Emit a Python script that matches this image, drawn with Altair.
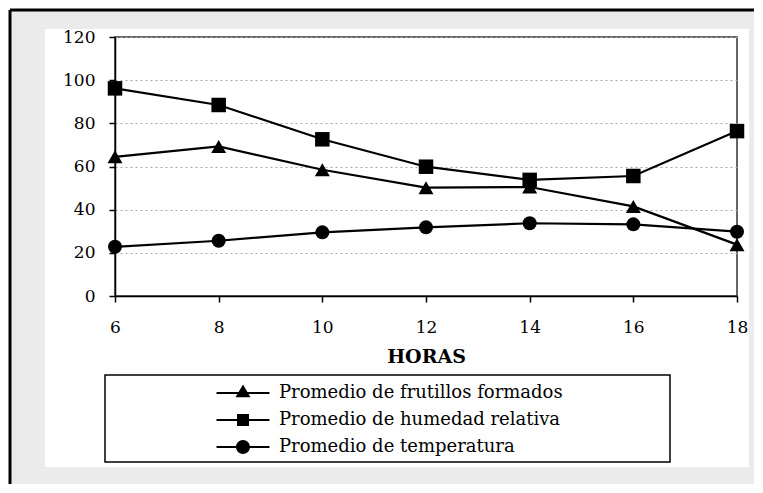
import altair as alt
import pandas as pd

# ---- data ----
horas = [6, 8, 10, 12, 14, 16, 18]
frutillos = [64.5, 69.3, 58.5, 50.2, 50.5, 41.5, 23.8]
humedad = [96.2, 88.5, 72.6, 59.9, 53.8, 55.6, 76.4]
temperatura = [22.8, 25.6, 29.5, 31.8, 33.7, 33.2, 29.8]
series = [
    "Promedio de frutillos formados",
    "Promedio de humedad relativa",
    "Promedio de temperatura",
]
y_ticks = [0, 20, 40, 60, 80, 100, 120]
x_ticks = horas

rows = []
for name, vals in zip(series, [frutillos, humedad, temperatura]):
    for h, v in zip(horas, vals):
        rows.append({"horas": h, "valor": v, "serie": name})
df = pd.DataFrame(rows)

FONT = "DejaVu Serif"

x_enc = alt.X(
    "horas:Q",
    scale=alt.Scale(domain=[6, 18], nice=False, zero=False),
    axis=alt.Axis(
        values=x_ticks, title="HORAS", titleFont=FONT, titleFontSize=19,
        titleFontWeight="bold", titleColor="black", titlePadding=12,
        labelFont=FONT, labelFontSize=17, labelColor="black", labelPadding=17,
        labelFlush=False, tickSize=6, tickColor="black", tickWidth=1.5,
        domainColor="black", domainWidth=1.5, grid=False,
    ),
)
y_enc = alt.Y(
    "valor:Q",
    scale=alt.Scale(domain=[0, 120], nice=False),
    axis=alt.Axis(
        values=y_ticks, title=None, labelFont=FONT, labelFontSize=17,
        labelColor="black", labelPadding=14, tickSize=6, tickColor="black",
        tickWidth=1.5, domainColor="black", domainWidth=1.5,
        grid=True, gridColor="#a8a8a8", gridDash=[2, 3], gridWidth=1,
    ),
)

base = alt.Chart(df)

lines = base.mark_line(color="black", strokeWidth=2.2).encode(
    x=x_enc, y=y_enc, detail="serie:N"
)

points = base.mark_point(filled=True, color="black", opacity=1).encode(
    x="horas:Q",
    y="valor:Q",
    shape=alt.Shape("serie:N", scale=alt.Scale(domain=series, range=["triangle-up", "square", "circle"]), legend=None),
    size=alt.Size("serie:N", scale=alt.Scale(domain=series, range=[225, 196, 150]), legend=None),
)

# legend symbols: a thin filled bar (the line) through the marker, all clockwise
bar = "M-3.53,-0.14L3.53,-0.14L3.53,0.14L-3.53,0.14Z"
leg_paths = [
    bar + "M0,-1.15L1,0.58L-1,0.58Z",
    bar + "M-0.8,-0.8L0.8,-0.8L0.8,0.8L-0.8,0.8Z",
    bar + "M0.93,0C0.93,0.51,0.51,0.93,0,0.93C-0.51,0.93,-0.93,0.51,-0.93,0"
    "C-0.93,-0.51,-0.51,-0.93,0,-0.93C0.51,-0.93,0.93,-0.51,0.93,0Z",
]
legend_src = base.mark_point(filled=True, color="black", opacity=0).encode(
    x="horas:Q",
    y="valor:Q",
    shape=alt.Shape(
        "serie:N",
        scale=alt.Scale(domain=series, range=leg_paths),
        legend=alt.Legend(
            orient="none", legendX=119, legendY=347, title=None,
            symbolSize=225, symbolOpacity=1, symbolStrokeWidth=0,
            symbolFillColor="black",
            labelFont=FONT, labelFontSize=18, labelColor="black",
            labelOffset=27, rowPadding=9, padding=0, labelLimit=500,
        ),
    ),
)

one = alt.Data(values=[{"k": 1}])
legend_box = alt.Chart(one).mark_rect(filled=False, stroke="black", strokeWidth=1.5).encode(
    x=alt.value(-10), x2=alt.value(555), y=alt.value(338), y2=alt.value(425)
)

band_color = "#ebebeb"
band_left = alt.Chart(one).mark_rect(color=band_color).encode(
    x=alt.value(-105), x2=alt.value(-70), y=alt.value(-27), y2=alt.value(460)
)
band_top = alt.Chart(one).mark_rect(color=band_color).encode(
    x=alt.value(-105), x2=alt.value(640), y=alt.value(-27), y2=alt.value(-8)
)
band_right = alt.Chart(one).mark_rect(color=band_color).encode(
    x=alt.value(634), x2=alt.value(640), y=alt.value(-27), y2=alt.value(460)
)
band_bottom = alt.Chart(one).mark_rect(color=band_color).encode(
    x=alt.value(-105), x2=alt.value(640), y=alt.value(430), y2=alt.value(460)
)
frame_top = alt.Chart(one).mark_rule(color="black", strokeWidth=3).encode(
    x=alt.value(-105), x2=alt.value(640), y=alt.value(-27)
)
frame_left = alt.Chart(one).mark_rule(color="black", strokeWidth=3).encode(
    x=alt.value(-105), y=alt.value(-27), y2=alt.value(460)
)

chart = alt.layer(
    band_left, band_top, band_right, band_bottom, frame_top, frame_left,
    legend_box, lines, points, legend_src,
).resolve_scale(shape="independent", size="independent").properties(
    width=622,
    height=259,
    autosize=alt.AutoSizeParams(type="none"),
    padding={"left": 107, "top": 29, "right": 17, "bottom": 188},
    background="white",
).configure_view(stroke="#333333", strokeWidth=1.5)

chart.save("out.html", embed_options={"renderer": "svg", "actions": False})
